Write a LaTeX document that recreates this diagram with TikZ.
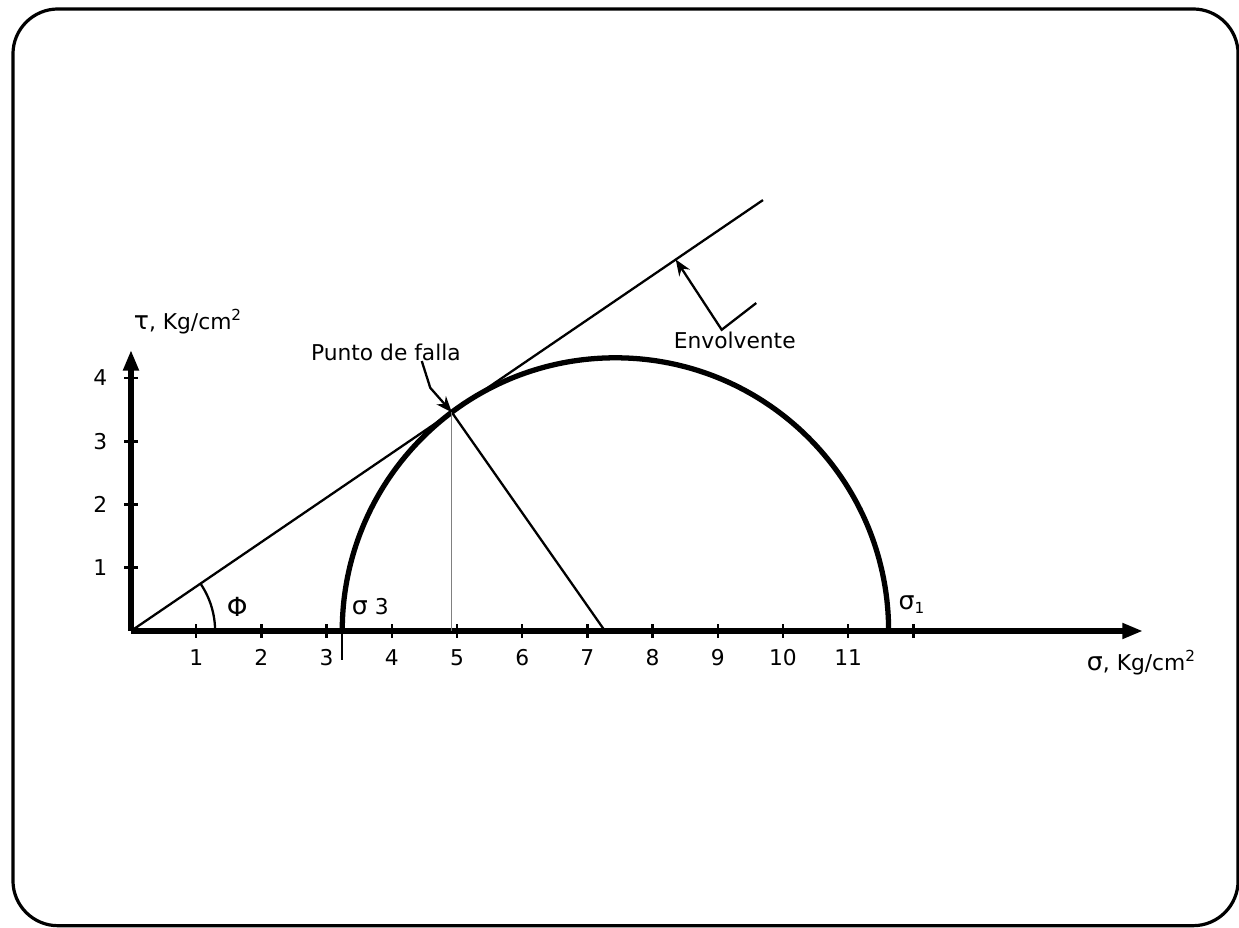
\documentclass[tikz,border=0pt]{standalone}
\usepackage{fontspec}
\setmainfont{DejaVu Sans}
\usetikzlibrary{arrows.meta, calc}

\begin{document}
\begin{tikzpicture}[font=\fontsize{9.5}{11}\selectfont,
  axisline/.style={line width=2.2pt, -{Triangle[length=9pt, width=6.5pt]}},
  mohr/.style={line width=2.3pt},
  thinline/.style={line width=1pt},
  tickmark/.style={line width=1.1pt},
  pointer/.style={line width=1pt, -{Stealth[length=7pt, width=5.5pt]}}]
  \useasboundingbox (-2.009,-4.555) rectangle (16.994,9.678);
  \draw[line width=1.4pt, rounded corners=0.69cm] (-1.81,-4.52) rectangle (16.98,9.54);

  % axes
  \coordinate (O) at (0,0);
  \coordinate (xend) at (15.52,0);
  \coordinate (yend) at (0,4.31);
  \draw[axisline] (O) -- (xend);
  \draw[axisline] (O) -- (yend);

  \foreach \x in {1,...,12} {
    \draw[tickmark] (\x,-0.1) -- (\x,0.1);
  }
  \foreach \x in {1,...,11} {
    \node (xl\x) at (\x,-0.41) {\x};
  }
  \foreach \y in {1,...,4} {
    \draw[tickmark] (-0.1,{0.97*\y}) -- (0.1,{0.97*\y});
    \node (yl\y) at (-0.47,{0.97*\y}) {\y};
  }

  \node[anchor=west] (tau) at (-0.08,4.74) {{\fontsize{11}{12}\selectfont τ}, Kg/cm\textsuperscript{2}};
  \node (sig) at (15.5,-0.49) {{\fontsize{11}{12}\selectfont σ}, Kg/cm\textsuperscript{2}};

  % Mohr circle
  \coordinate (C) at (7.43,0);
  \coordinate (F) at ($(C)+(126.8:4.19)$);
  \coordinate (R) at (7.27,0);
  \draw[mohr] ($(C)+(-4.19,0)$) arc[start angle=180, end angle=0, radius=4.19];
  \draw[thinline] ($(C)+(-4.19,0)$) -- ($(C)+(-4.19,-0.45)$);
  \node (s3) at (3.67,0.38) {{\fontsize{11}{12}\selectfont σ} 3};
  \node (s1) at (11.98,0.40) {{\fontsize{11}{12}\selectfont σ}\textsubscript{1}};

  % envelope
  \coordinate (E) at ($(O)!1.97!(F)$);
  \draw[thinline] (O) -- (E);
  \draw[thinline] (F) -- (R);
  \draw[line width=0.6pt, gray] (F) -- (F |- O);
  \draw[thinline] (1.29,0) arc[start angle=0, end angle=34.3, radius=1.29];
  \node[font=\fontsize{11.5}{12}\selectfont] (phi) at (1.63,0.37) {Φ};

  \node (falla) at (3.91,4.28) {Punto de falla};
  \coordinate (fk) at (4.59,3.73);
  \draw[pointer] (4.46,4.14) -- (fk) -- (F);

  \node (env) at (9.26,4.46) {Envolvente};
  \coordinate (Et) at ($(O)!0.862!(E)$);
  \coordinate (ek) at (9.06,4.62);
  \draw[pointer] (9.59,5.03) -- (ek) -- (Et);
\end{tikzpicture}
\end{document}
